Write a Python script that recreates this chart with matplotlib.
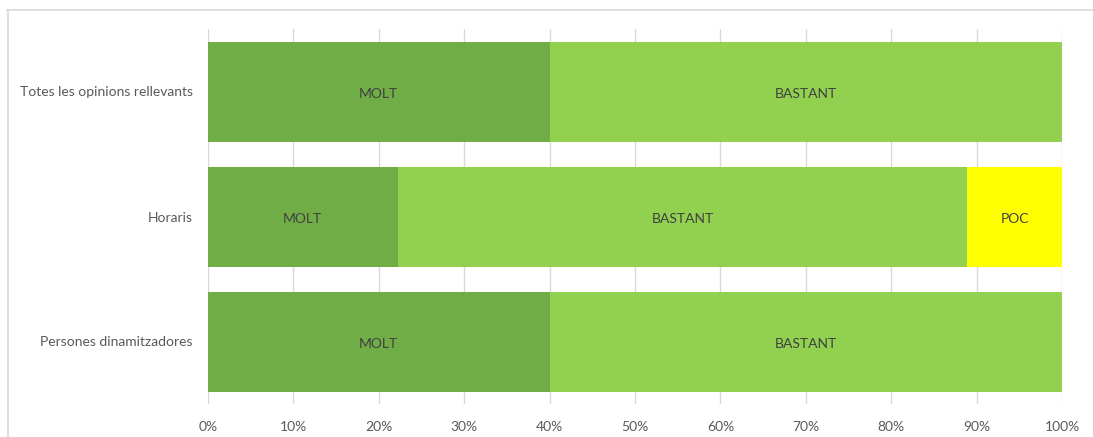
import numpy as np
import matplotlib.pyplot as plt
from matplotlib.lines import Line2D
from matplotlib.ticker import PercentFormatter

categories = ['Totes les opinions rellevants', 'Horaris', 'Persones dinamitzadores']
molt = [40.0, 22.2, 40.0]
bastant = [60.0, 66.7, 60.0]
poc = [0.0, 11.1, 0.0]

series = [('MOLT', molt, '#70AD47'),
          ('BASTANT', bastant, '#92D050'),
          ('POC', poc, '#FFFF00')]

plt.rcParams['font.family'] = ['Lato', 'DejaVu Sans']

fig = plt.figure(figsize=(10.93, 4.37), dpi=100)
ax = fig.add_axes([208/1093, 1 - 404/437, 854/1093, 375/437])

y = np.arange(len(categories))
left = np.zeros(len(categories))
for name, vals, col in series:
  vals = np.array(vals)
  ax.barh(y, vals, left=left, height=0.8, color=col, edgecolor='none', zorder=2)
  for yi, l, v in zip(y, left, vals):
    if v > 0:
      ax.text(l + v/2, yi + 0.02, name, ha='center', va='center', fontsize=10, color='#404040', zorder=3)
  left = left + vals

ax.set_xlim(0, 100)
ax.set_ylim(len(categories) - 0.5, -0.5)
ax.set_yticks(y)
ax.set_yticklabels(categories, fontsize=10, color='#595959')
ax.set_xticks(np.arange(0, 101, 10))
ax.xaxis.set_major_formatter(PercentFormatter(decimals=0))
ax.tick_params(axis='x', labelsize=10, colors='#595959', length=0, pad=12)
ax.tick_params(axis='y', length=0, pad=11)
ax.grid(axis='x', color='#D9D9D9', linewidth=1, zorder=0)
for s in ax.spines.values():
  s.set_visible(False)

# chart area border (top and left visible)
fig.add_artist(Line2D([7/1093, 1], [1 - 10/437, 1 - 10/437], color='#D9D9D9', lw=1.2))
fig.add_artist(Line2D([7.5/1093, 7.5/1093], [0, 1 - 10/437], color='#D9D9D9', lw=1.2))

fig.savefig('out.png', dpi=100)
